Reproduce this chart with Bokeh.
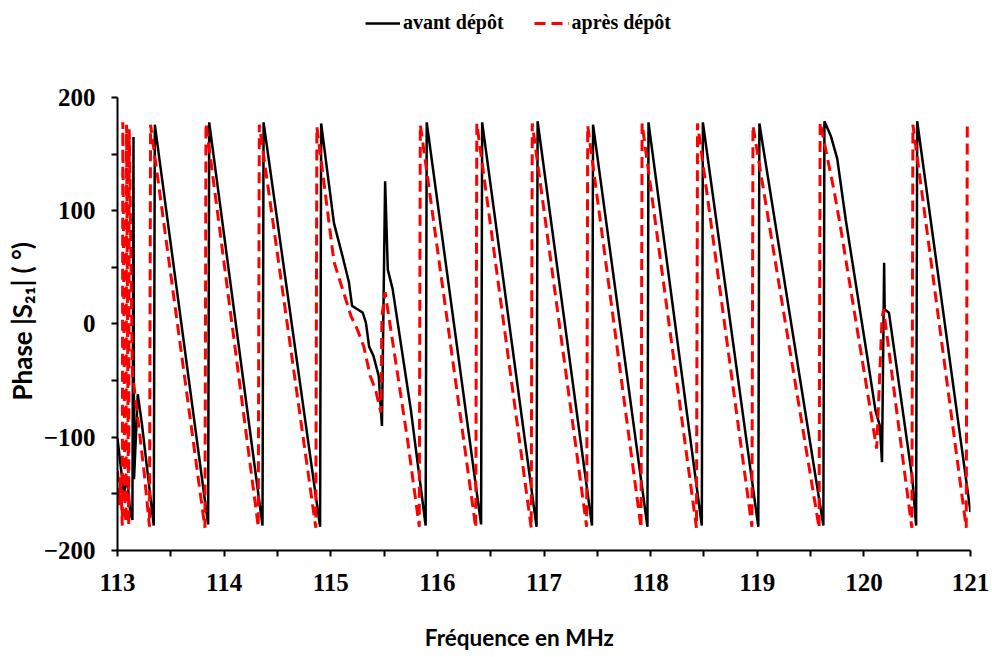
from bokeh.plotting import figure
from bokeh.models import Range1d, FixedTicker, Legend, LegendItem, Title
from bokeh.embed import file_html
from bokeh.resources import INLINE

# ---- data ----
freq_avant = [
    113.00, 113.06, 113.09, 113.12, 113.14, 113.15, 113.155, 113.19, 113.23, 113.34,
    113.35, 113.85,
    113.86, 114.36,
    114.37, 114.90,
    114.91, 115.03, 115.11, 115.17, 115.20, 115.25, 115.30, 115.33, 115.36, 115.40,
    115.45, 115.48, 115.51, 115.535, 115.58, 115.75, 115.89,
    115.90, 116.41,
    116.42, 116.93,
    116.94, 117.45,
    117.46, 117.97,
    117.98, 118.48,
    118.49, 119.01,
    119.02, 119.62,
    119.63, 119.69, 119.75, 119.83, 120.03, 120.11, 120.15, 120.17, 120.19, 120.195,
    120.235, 120.455, 120.49,
    120.50, 121.00,
]
phase_avant = [
    -101, -150, -135, -167, -173, 165, -137, -62, -89, -178,
    176, -177,
    178, -178,
    178, -179,
    177, 89, 60, 37, 16, 13, 10, 1, -20, -28,
    -46, -90, 126, 48, 31, -75, -178,
    178, -177,
    178, -179,
    179, -178,
    176, -179,
    178, -178,
    178, -179,
    177, -178,
    179, 166, 146, 92, -28, -77, -90, -122, 54, 13,
    10, -137, -178,
    179, -166,
]

freq_apres = [
    113.00, 113.02, 113.03, 113.045, 113.05, 113.07, 113.08, 113.085, 113.10, 113.105,
    113.11, 113.14, 113.25, 113.30,
    113.31, 113.82,
    113.83, 114.32,
    114.33, 114.86,
    114.87, 115.03, 115.19, 115.25, 115.31, 115.37, 115.42, 115.47, 115.48, 115.51,
    115.72, 115.83,
    115.84, 116.36,
    116.37, 116.88,
    116.89, 117.40,
    117.41, 117.91,
    117.92, 118.43,
    118.44, 118.95,
    118.96, 119.58,
    119.59, 119.72, 119.78, 120.12, 120.17, 120.185, 120.39, 120.45,
    120.46, 120.96,
    120.97,
]
phase_apres = [
    -130, -160, -135, -178, 178, -165, -175, 176, -110, -178,
    172, -43, -131, -179,
    176, -180,
    177, -179,
    176, -180,
    174, 55, 7, -5, -20, -46, -58, -78, 7, 28,
    -102, -179,
    176, -180,
    177, -180,
    177, -179,
    175, -180,
    177, -180,
    177, -179,
    175, -180,
    178, 118, 86, -110, 4, 13, -137, -180,
    176, -180,
    177,
]

series_labels = ["avant dépôt", "après dépôt"]
x_ticks = [113, 114, 115, 116, 117, 118, 119, 120, 121]
y_ticks = [-200, -100, 0, 100, 200]
x_minor = [113.5, 114.5, 115.5, 116.5, 117.5, 118.5, 119.5, 120.5]
y_minor = [-150, -50, 50, 150]
x_title = "Fréquence en MHz"
y_title = "Phase |S₂₁| ( °)"

# ---- figure ----
# the frame reaches the top of the canvas; the y axis itself stops at 200,
# and the legend sits in the blank band above it.
p = figure(width=992, height=657,
           x_range=Range1d(113, 121), y_range=Range1d(-200, 285.6),
           output_backend="svg", toolbar_location=None,
           min_border_left=117, min_border_right=22,
           min_border_top=0, min_border_bottom=107)
p.outline_line_color = None
p.grid.visible = False
p.background_fill_color = "white"
p.border_fill_color = "white"

r1 = p.line(freq_avant, phase_avant, line_color="black", line_width=2.5)
r2 = p.line(freq_apres, phase_apres, line_color="#ff0000", line_width=3,
            line_dash="11 6")

legend = Legend(items=[LegendItem(label=series_labels[0], renderers=[r1]),
                       LegendItem(label=series_labels[1], renderers=[r2])],
                orientation="horizontal", location=(248, 516),
                padding=0, margin=0, spacing=30,
                border_line_color=None, background_fill_alpha=0,
                glyph_width=35, glyph_height=20, label_height=20,
                label_standoff=3,
                label_text_font="Liberation Serif", label_text_font_style="bold",
                label_text_font_size="20px", label_text_color="black")
p.add_layout(legend)

for ax, ticks, minor in ((p.xaxis[0], x_ticks, x_minor), (p.yaxis[0], y_ticks, y_minor)):
    ax.ticker = FixedTicker(ticks=ticks, minor_ticks=minor)
    ax.axis_line_width = 2
    ax.axis_line_color = "black"
    ax.major_tick_line_width = 2
    ax.minor_tick_line_width = 2
    ax.major_tick_out = 6
    ax.major_tick_in = 0
    ax.minor_tick_out = 6
    ax.minor_tick_in = 0
    ax.major_label_text_font = "Liberation Serif"
    ax.major_label_text_font_style = "bold"
    ax.major_label_text_font_size = "25px"
    ax.major_label_text_color = "black"

p.yaxis.bounds = (-200, 200)
p.xaxis.major_label_standoff = 17
p.yaxis.major_label_standoff = 16

# x title: the axis label of the x axis; trailing no-break spaces move the
# visible words a little left of the frame centre, as in the reference
p.xaxis.axis_label = x_title + "\u00a0" * 9
p.xaxis.axis_label_standoff = 30
p.xaxis.axis_label_text_font = "Lato"
p.xaxis.axis_label_text_font_style = "bold"
p.xaxis.axis_label_text_font_size = "22.5px"
p.xaxis.axis_label_text_color = "black"

yt = Title(text=y_title, align="left", offset=150,
           text_font="Lato", text_font_style="bold", text_font_size="26px",
           text_color="black")
try:
    yt.standoff = 6
except Exception:
    pass
p.add_layout(yt, "left")

open("out.html", "w").write(file_html(p, INLINE))
